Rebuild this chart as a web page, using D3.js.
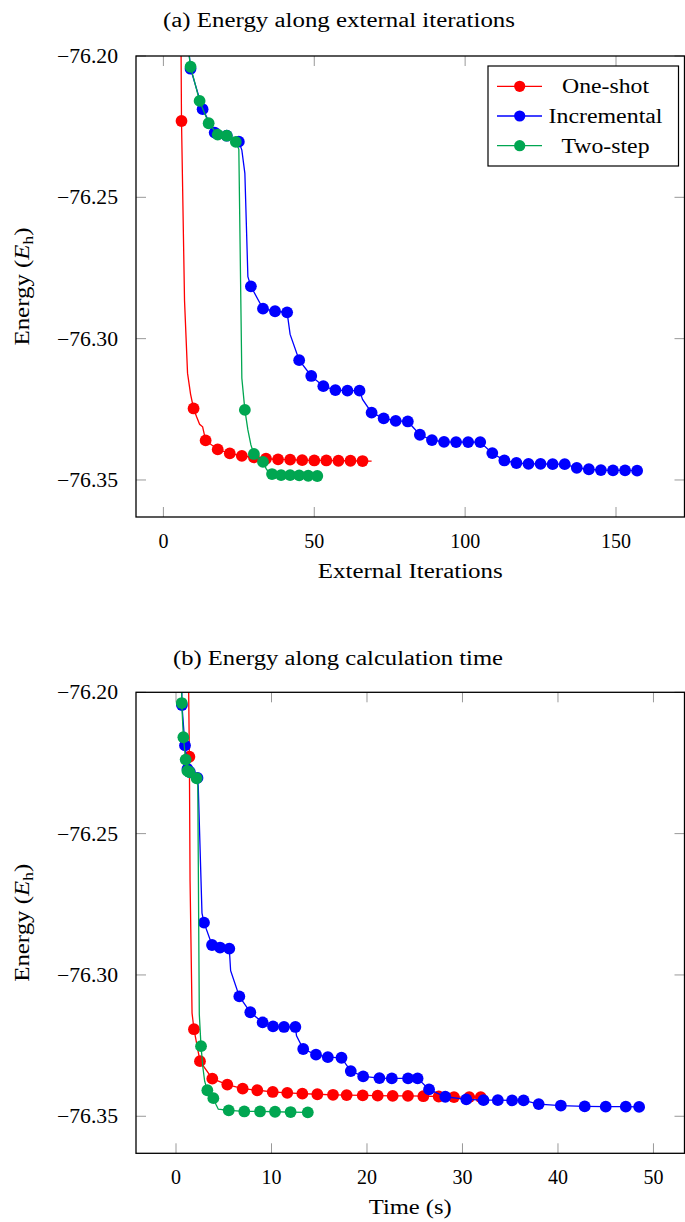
<!DOCTYPE html>
<html>
<head>
<meta charset="utf-8">
<script src="https://cdn.jsdelivr.net/npm/d3@7"></script>
<style>
  body { margin: 0; background: #fff; }
  text { font-family: "Liberation Serif", "Times New Roman", serif; fill: #000; }
</style>
</head>
<body>
<svg id="fig" width="685" height="1222"></svg>
<script>
// ---- data ----
// One-shot, along external iterations (marks every 4th iteration from 2)
const oneShotIter = [2, 5, 6, 7, 8, 9, 10, 11, 12, 13, 14, 18, 22, 26, 30, 34, 38, 42, 46, 50, 54, 58, 62, 66, 69];
const oneShotEnergy = [-75.80, -76.052, -76.2230, -76.2865, -76.3122, -76.3196, -76.3247, -76.3276, -76.3303, -76.3312,
  -76.3360, -76.3392, -76.3406, -76.3415, -76.3420, -76.3425, -76.3427, -76.3428, -76.3430, -76.3431,
  -76.3431, -76.3432, -76.3432, -76.3433, -76.3433];
// One-shot, along calculation time (own sampling)
const oneShotTime = [1.00, 1.40, 1.47, 1.68, 1.88, 2.51, 3.80, 5.37, 6.98, 8.51, 10.13, 11.65, 13.23, 14.80, 16.44,
  17.87, 19.55, 21.12, 22.69, 24.29, 25.90, 27.51, 29.11, 30.71, 31.91, 32.60];
const oneShotTimeEnergy = [-76.10, -76.2228, -76.2664, -76.3135, -76.3192, -76.3305, -76.3367, -76.3388, -76.3402, -76.3408,
  -76.3414, -76.3417, -76.3420, -76.3422, -76.3424, -76.3425, -76.3426, -76.3427, -76.3428, -76.3428,
  -76.3429, -76.3430, -76.3432, -76.3432, -76.3432, -76.3432];
const oneShotTimeMarked = [0, 1, 0, 0, 1, 1, 1, 1, 1, 1, 1, 1, 1, 1, 1, 1, 1, 1, 1, 1, 1, 1, 1, 1, 1, 0];

// Incremental (marks every 4th iteration from 1)
const incIter = [1, 5, 9, 13, 17, 21, 25, 26, 27, 28, 29, 33, 37, 41, 42, 45, 49, 53, 57, 61,
  65, 66, 69, 73, 77, 81, 85, 89, 93, 97, 101, 105, 109, 113, 117, 121, 125, 129, 133, 137,
  141, 145, 149, 153, 157];
const incEnergy = [-76.00, -76.16, -76.2045, -76.2188, -76.2271, -76.2282, -76.2303, -76.2333, -76.2415, -76.2781,
  -76.2815, -76.2894, -76.2903, -76.2907, -76.2985, -76.3076, -76.3132, -76.3168, -76.3182, -76.3184,
  -76.3184, -76.3215, -76.3262, -76.3282, -76.3291, -76.3293, -76.3340, -76.3359, -76.3365, -76.3366,
  -76.3366, -76.3366, -76.3405, -76.3431, -76.3440, -76.3443, -76.3443, -76.3444, -76.3444, -76.3457,
  -76.3462, -76.3465, -76.3466, -76.3466, -76.3467];
const incTime = [0.35, 0.50, 0.62, 0.94, 1.20, 1.45, 2.25, 2.33, 2.40, 2.72,
  2.93, 3.77, 4.61, 5.58, 5.72, 6.63, 7.78, 9.07, 10.16, 11.31,
  12.50, 12.62, 13.32, 14.66, 15.90, 17.33, 18.30, 19.60, 21.30, 22.60,
  24.30, 25.30, 26.50, 28.20, 30.40, 32.20, 33.70, 35.20, 36.40, 37.98,
  40.30, 42.80, 45.00, 47.10, 48.50];

// Two-step (marks every 3rd iteration from 0)
const twoIter = [0, 3, 6, 9, 12, 15, 18, 21, 24, 25, 26, 27, 28, 29, 30, 33, 34, 35, 36, 39, 42, 45, 48, 51];
const twoEnergy = [-76.00, -76.10, -76.177, -76.2038, -76.2159, -76.2238, -76.2278, -76.2282, -76.2304, -76.2330,
  -76.3140, -76.3252, -76.3323, -76.3376, -76.3408, -76.3436, -76.3459, -76.3475, -76.3479, -76.3483,
  -76.3483, -76.3484, -76.3485, -76.3486];
const twoTime = [0.30, 0.45, 0.57, 0.60, 0.77, 1.01, 1.19, 1.40, 2.16, 2.28,
  2.44, 2.62, 2.80, 3.00, 3.28, 3.91, 4.20, 4.43, 5.52, 7.15,
  8.80, 10.37, 12.00, 13.80];

const iterTicks = [0, 50, 100, 150];
const timeTicks = [0, 10, 20, 30, 40, 50];
const energyTicks = [-76.35, -76.30, -76.25, -76.20];

const colors = { oneShot: "#ff0000", inc: "#0000ff", two: "#00a651" };
const legendNames = ["One-shot", "Incremental", "Two-step"];
const legendWidths = [87, 114, 88];

// ---- build point lists ----
const byIter = (xs, ys, start, step) => xs.map((x, i) => ({ x: x, y: ys[i], mark: (x - start) % step === 0 }));
const byTime = (ts, ys, iters, start, step) => ts.map((t, i) => ({ x: t, y: ys[i], mark: (iters[i] - start) % step === 0 }));

const iterSeries = [
  { color: colors.oneShot, pts: byIter(oneShotIter, oneShotEnergy, 2, 4) },
  { color: colors.inc, pts: byIter(incIter, incEnergy, 1, 4) },
  { color: colors.two, pts: byIter(twoIter, twoEnergy, 0, 3) }
];
const timeSeries = [
  { color: colors.oneShot, pts: oneShotTime.map((t, i) => ({ x: t, y: oneShotTimeEnergy[i], mark: oneShotTimeMarked[i] === 1 })) },
  { color: colors.inc, pts: byTime(incTime, incEnergy, incIter, 1, 4) },
  { color: colors.two, pts: byTime(twoTime, twoEnergy, twoIter, 0, 3) }
];

const svg = d3.select("#fig");
const fmt = d3.format(".2f");

function drawPanel(cfg) {
  const x = d3.scaleLinear().domain(cfg.xDomain).range([cfg.left, cfg.right]);
  const y = d3.scaleLinear().domain([-76.3631, -76.20]).range([cfg.bottom, cfg.top]);
  const g = svg.append("g");

  // title
  g.append("text")
    .attr("x", cfg.titleX).attr("y", cfg.titleY)
    .attr("text-anchor", "middle").attr("font-size", 20)
    .attr("textLength", cfg.titleW).attr("lengthAdjust", "spacingAndGlyphs")
    .text(cfg.title);

  // clip
  g.append("clipPath").attr("id", cfg.id)
    .append("rect")
    .attr("x", cfg.left).attr("y", cfg.top)
    .attr("width", cfg.right - cfg.left).attr("height", cfg.bottom - cfg.top);

  // ticks (inside, all four sides)
  const tk = 10;
  cfg.xTicks.forEach(v => {
    g.append("line").attr("x1", x(v)).attr("x2", x(v)).attr("y1", cfg.bottom).attr("y2", cfg.bottom - tk)
      .attr("stroke", "#999").attr("stroke-width", 1);
    g.append("line").attr("x1", x(v)).attr("x2", x(v)).attr("y1", cfg.top).attr("y2", cfg.top + tk)
      .attr("stroke", "#999").attr("stroke-width", 1);
    g.append("text").attr("x", x(v)).attr("y", cfg.bottom + 31)
      .attr("text-anchor", "middle").attr("font-size", 20).text(v);
  });
  energyTicks.forEach(v => {
    g.append("line").attr("x1", cfg.left).attr("x2", cfg.left + tk).attr("y1", y(v)).attr("y2", y(v))
      .attr("stroke", "#999").attr("stroke-width", 1);
    g.append("line").attr("x1", cfg.right).attr("x2", cfg.right - tk).attr("y1", y(v)).attr("y2", y(v))
      .attr("stroke", "#999").attr("stroke-width", 1);
    g.append("text").attr("x", cfg.left - 18).attr("y", y(v) + 7)
      .attr("text-anchor", "end").attr("font-size", 20)
      .attr("textLength", 61).attr("lengthAdjust", "spacingAndGlyphs")
      .text(fmt(v));
  });

  // data
  const plot = g.append("g").attr("clip-path", `url(#${cfg.id})`);
  const line = d3.line().x(d => x(d.x)).y(d => y(d.y));
  cfg.series.forEach(s => {
    plot.append("path").datum(s.pts)
      .attr("fill", "none").attr("stroke", s.color).attr("stroke-width", 1.3)
      .attr("d", line);
    plot.selectAll(null).data(s.pts.filter(d => d.mark)).enter()
      .append("circle")
      .attr("cx", d => x(d.x)).attr("cy", d => y(d.y)).attr("r", 5.9)
      .attr("fill", s.color);
  });

  // frame
  g.append("rect")
    .attr("x", cfg.left).attr("y", cfg.top)
    .attr("width", cfg.right - cfg.left).attr("height", cfg.bottom - cfg.top)
    .attr("fill", "none").attr("stroke", "#000").attr("stroke-width", 1.3);

  // axis labels
  g.append("text")
    .attr("x", (cfg.left + cfg.right) / 2).attr("y", cfg.bottom + 61)
    .attr("text-anchor", "middle").attr("font-size", 20)
    .attr("textLength", cfg.xLabelW).attr("lengthAdjust", "spacingAndGlyphs")
    .text(cfg.xLabel);

  const yl = g.append("text")
    .attr("transform", `translate(29,${(cfg.top + cfg.bottom) / 2}) rotate(-90)`)
    .attr("text-anchor", "middle").attr("font-size", 20)
    .attr("textLength", 118).attr("lengthAdjust", "spacingAndGlyphs");
  yl.append("tspan").text("Energy (");
  yl.append("tspan").attr("font-style", "italic").text("E");
  yl.append("tspan").attr("font-size", 14).attr("dy", 4).text("h");
  yl.append("tspan").attr("dy", -4).text(")");

  if (cfg.legend) {
    const lg = g.append("g");
    lg.append("rect").attr("x", 488).attr("y", 66).attr("width", 190.5).attr("height", 100)
      .attr("fill", "#fff").attr("stroke", "#000").attr("stroke-width", 1.2);
    cfg.series.forEach((s, i) => {
      const ry = 86.3 + i * 29.7;
      lg.append("line").attr("x1", 497).attr("x2", 542).attr("y1", ry).attr("y2", ry)
        .attr("stroke", s.color).attr("stroke-width", 1.3);
      lg.append("circle").attr("cx", 519.7).attr("cy", ry).attr("r", 5.6).attr("fill", s.color);
      lg.append("text").attr("x", 605.5).attr("y", ry + 7)
        .attr("text-anchor", "middle").attr("font-size", 20)
        .attr("textLength", legendWidths[i]).attr("lengthAdjust", "spacingAndGlyphs")
        .text(legendNames[i]);
    });
  }
}

drawPanel({
  id: "clipA", left: 136, right: 684.5, top: 56, bottom: 517,
  xDomain: [-9.08, 172.7], xTicks: iterTicks,
  title: "(a) Energy along external iterations", titleX: 339, titleY: 27, titleW: 352,
  xLabel: "External Iterations", xLabelW: 185,
  series: iterSeries, legend: true
});

drawPanel({
  id: "clipB", left: 136, right: 684.5, top: 692.3, bottom: 1153.3,
  xDomain: [-4.19, 53.25], xTicks: timeTicks,
  title: "(b) Energy along calculation time", titleX: 338, titleY: 665, titleW: 330,
  xLabel: "Time (s)", xLabelW: 83,
  series: timeSeries, legend: false
});
</script>
</body>
</html>
